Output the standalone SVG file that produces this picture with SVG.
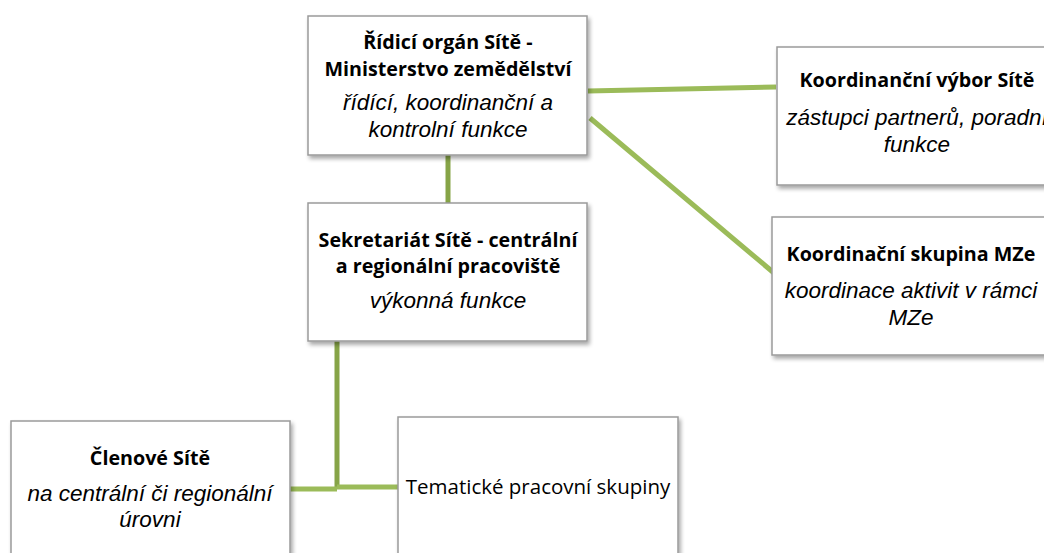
<svg xmlns="http://www.w3.org/2000/svg" width="1044" height="553" viewBox="0 0 1044 553">
<defs>
<filter id="sh" x="-10%" y="-10%" width="130%" height="130%">
<feGaussianBlur in="SourceAlpha" stdDeviation="2"/>
<feOffset dx="2" dy="3" result="b"/>
<feComponentTransfer><feFuncA type="linear" slope="0.35"/></feComponentTransfer>
<feMerge><feMergeNode/><feMergeNode in="SourceGraphic"/></feMerge>
</filter>
<style>
.box{fill:#fff;stroke:#9a9a9a;stroke-width:1.5;filter:url(#sh)}
.t{font-family:"Open Sans","Liberation Sans",sans-serif;fill:#000;text-anchor:middle}
.b{font-weight:bold;font-size:19.7px}
.i{font-family:"Liberation Sans",Arial,sans-serif;font-style:italic;font-size:22.5px}
.r{font-size:20.5px}
.c{stroke:#9bbb59;stroke-width:5;fill:none}
.cv{stroke:#86a447;stroke-width:5;fill:none}
</style>
</defs>
<rect width="1044" height="553" fill="#fff"/>
<g id="connectors">
<line class="cv" x1="448" y1="154" x2="448" y2="204"/>
<line class="c" x1="588" y1="91" x2="776" y2="87"/>
<line class="c" x1="590" y1="118" x2="774" y2="273"/>
<polyline class="cv" points="337,341 337,488"/>
<line class="c" x1="290" y1="489" x2="337" y2="489"/>
<line class="c" x1="337" y1="487" x2="399" y2="487"/>
</g>
<g id="ridici">
<rect class="box" x="308" y="16" width="279" height="139"/>
<text class="t b" x="448" y="49">Řídicí orgán Sítě -</text>
<text class="t b" x="448" y="76">Ministerstvo zemědělství</text>
<text class="t i" x="448" y="110">řídící, koordinanční a</text>
<text class="t i" x="448" y="137">kontrolní funkce</text>
</g>
<g id="vybor">
<rect class="box" x="777" y="47" width="280" height="138"/>
<text class="t b" x="917" y="87">Koordinanční výbor Sítě</text>
<text class="t i" x="917" y="125">zástupci partnerů, poradní</text>
<text class="t i" x="917" y="152">funkce</text>
</g>
<g id="skupina">
<rect class="box" x="772" y="217" width="278" height="138"/>
<text class="t b" x="911" y="261">Koordinační skupina MZe</text>
<text class="t i" x="911" y="298">koordinace aktivit v rámci</text>
<text class="t i" x="911" y="325">MZe</text>
</g>
<g id="sekretariat">
<rect class="box" x="308" y="203" width="279" height="138"/>
<text class="t b" x="448" y="247">Sekretariát Sítě - centrální</text>
<text class="t b" x="448" y="273">a regionální pracoviště</text>
<text class="t i" x="448" y="308">výkonná funkce</text>
</g>
<g id="clenove">
<rect class="box" x="11" y="421" width="279" height="150"/>
<text class="t b" x="150" y="465">Členové Sítě</text>
<text class="t i" x="150" y="501">na centrální či regionální</text>
<text class="t i" x="150" y="527">úrovni</text>
</g>
<g id="tematicke">
<rect class="box" x="398" y="417" width="280" height="150"/>
<text class="t r" x="538" y="494">Tematické pracovní skupiny</text>
</g>
</svg>
